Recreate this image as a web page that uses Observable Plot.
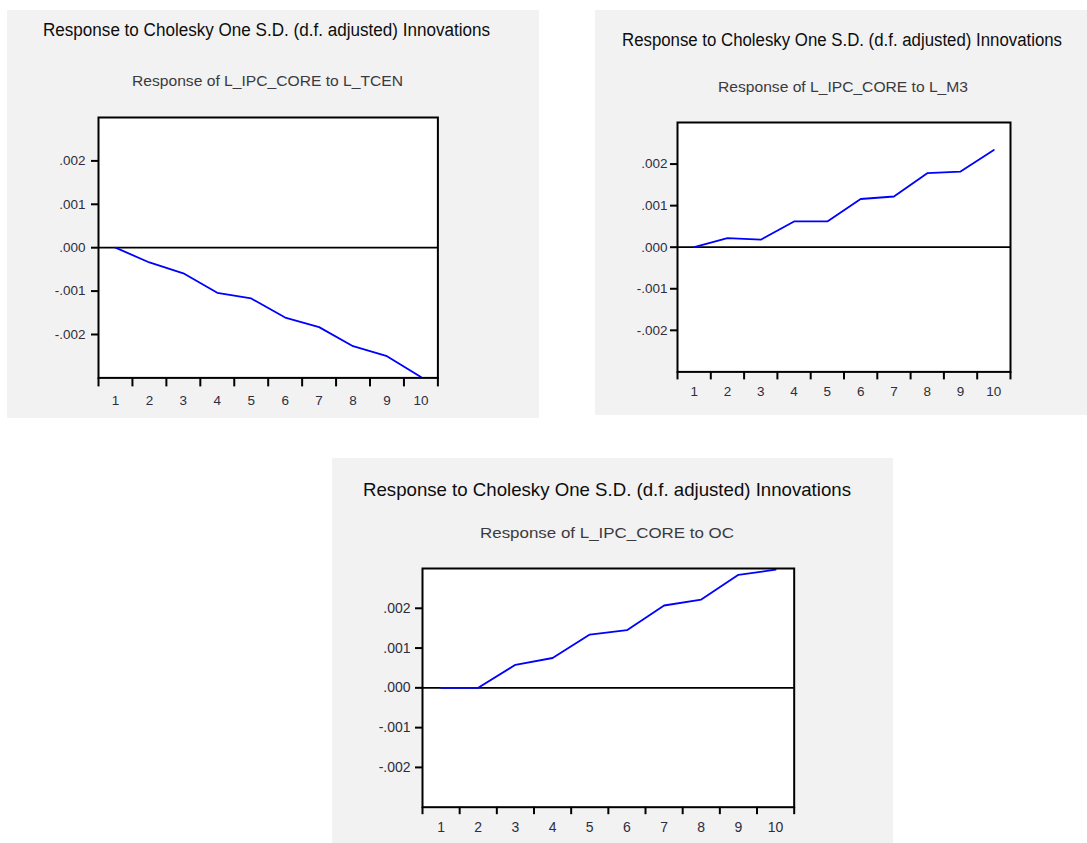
<!DOCTYPE html>
<html><head><meta charset="utf-8">
<script src="https://cdn.jsdelivr.net/npm/d3@7"></script>
<script src="https://cdn.jsdelivr.net/npm/@observablehq/plot@0.6"></script>
<style>
html,body{margin:0;padding:0;background:#fff}
body{width:1087px;height:843px;overflow:hidden;position:relative;font-family:"Liberation Sans",Arial,sans-serif}
.panel{position:absolute;background:#f2f2f2}
.t{position:absolute;white-space:nowrap;line-height:1;transform-origin:0 0}
.plotwrap{position:absolute}
</style></head>
<body>
<script>
// ---------------- data ----------------
const periods = [1, 2, 3, 4, 5, 6, 7, 8, 9, 10];
const bandEdges = [0.5, 1.5, 2.5, 3.5, 4.5, 5.5, 6.5, 7.5, 8.5, 9.5, 10.5];
const respToTCEN = [0, -0.00034, -0.00059, -0.00104, -0.00117, -0.00161, -0.00183, -0.00227, -0.0025, -0.00298];
const respToM3   = [0, 0.00022, 0.00018, 0.00062, 0.00062, 0.00116, 0.00122, 0.00178, 0.00182, 0.00234];
const respToOC   = [0, 0, 0.00058, 0.00075, 0.00134, 0.00145, 0.00207, 0.00222, 0.00284, 0.00297];
const yTicks = [-0.002, -0.001, 0, 0.001, 0.002];
const yDomain = [-0.003, 0.003];
const mainTitle = "Response to Cholesky One S.D. (d.f. adjusted) Innovations";
const subTitles = ["Response of L_IPC_CORE to L_TCEN", "Response of L_IPC_CORE to L_M3", "Response of L_IPC_CORE to OC"];

// ---------------- layout ----------------
const layouts = [
  {series: respToTCEN, sub: subTitles[0],
   box: {x: 7, y: 10, w: 532, h: 408},
   frame: {L: 98.3, R: 437.7, T: 117.3, B: 377.7},
   title: {x: 43, cy: 30.2, w: 447, fs: 18},
   subt: {x: 132, cy: 80.7, w: 271, fs: 14.5},
   tickFs: 13.5, xPad: 18, xTick: 9, yPad: 6},
  {series: respToM3, sub: subTitles[1],
   box: {x: 595, y: 10, w: 492, h: 405},
   frame: {L: 677.3, R: 1010.3, T: 122.3, B: 371.7},
   title: {x: 621.7, cy: 39.8, w: 440, fs: 18},
   subt: {x: 718, cy: 87.5, w: 250, fs: 14.5},
   tickFs: 13.5, xPad: 15, xTick: 8, yPad: 3},
  {series: respToOC, sub: subTitles[2],
   box: {x: 331.7, y: 458, w: 561.3, h: 385},
   frame: {L: 422.3, R: 794, T: 568, B: 806.7},
   title: {x: 363, cy: 489.2, w: 488, fs: 19},
   subt: {x: 480, cy: 533, w: 254, fs: 14.5},
   tickFs: 14, xPad: 15, xTick: 7.5, yPad: 5}
];

const fmt = v => (v < 0 ? "-" : "") + Math.abs(v).toFixed(3).slice(1);

function addText(txt, spec, color) {
  const s = document.createElement("div");
  s.className = "t";
  s.textContent = txt;
  s.style.fontSize = spec.fs + "px";
  s.style.color = color;
  s.style.left = spec.x + "px";
  s.style.top = (spec.cy - 0.4885 * spec.fs) + "px";
  document.body.appendChild(s);
  const w = s.getBoundingClientRect().width;
  s.style.transform = `scaleX(${spec.w / w})`;
}

for (const c of layouts) {
  const bx = document.createElement("div");
  bx.className = "panel";
  Object.assign(bx.style, {left: c.box.x + "px", top: c.box.y + "px", width: c.box.w + "px", height: c.box.h + "px"});
  document.body.appendChild(bx);

  addText(mainTitle, c.title, "#0d0d0d");
  addText(c.sub, c.subt, "#3b3a40");

  const f = c.frame;
  const mL = 55, mR = 10, mT = 10, mB = 40;
  const svgL = f.L - mL, svgT = f.T - mT;
  const W = f.R - f.L + mL + mR, H = f.B - f.T + mT + mB;
  const data = periods.map((p, i) => ({p, v: c.series[i]}));

  const chart = Plot.plot({
    width: W, height: H,
    marginLeft: mL, marginRight: mR, marginTop: mT, marginBottom: mB,
    x: {type: "linear", domain: [0.5, 10.5]},
    y: {type: "linear", domain: yDomain},
    style: {background: "transparent", fontFamily: "'Liberation Sans', Arial, sans-serif", fontSize: c.tickFs + "px", overflow: "visible"},
    marks: [
      Plot.frame({fill: "white"}),
      Plot.ruleY([0], {stroke: "black", strokeWidth: 1.7}),
      Plot.line(data, {x: "p", y: "v", stroke: "#0000ff", strokeWidth: 1.8, clip: true}),
      Plot.frame({stroke: "black", strokeWidth: 2}),
      Plot.axisY({ticks: yTicks, tickSize: 7, tickPadding: c.yPad, tickFormat: fmt, stroke: "black", strokeWidth: 2, fill: "#2e2d3c", label: null}),
      Plot.axisX({ticks: bandEdges, tickSize: c.xTick, tickFormat: () => "", stroke: "black", strokeWidth: 2, label: null}),
      Plot.axisX({ticks: periods, tickSize: 0, tickPadding: c.xPad, tickFormat: d => String(d), fill: "#2e2d3c", label: null})
    ]
  });
  const wrap = document.createElement("div");
  wrap.className = "plotwrap";
  wrap.style.left = svgL + "px";
  wrap.style.top = svgT + "px";
  wrap.appendChild(chart);
  document.body.appendChild(wrap);
}
</script>
</body></html>
